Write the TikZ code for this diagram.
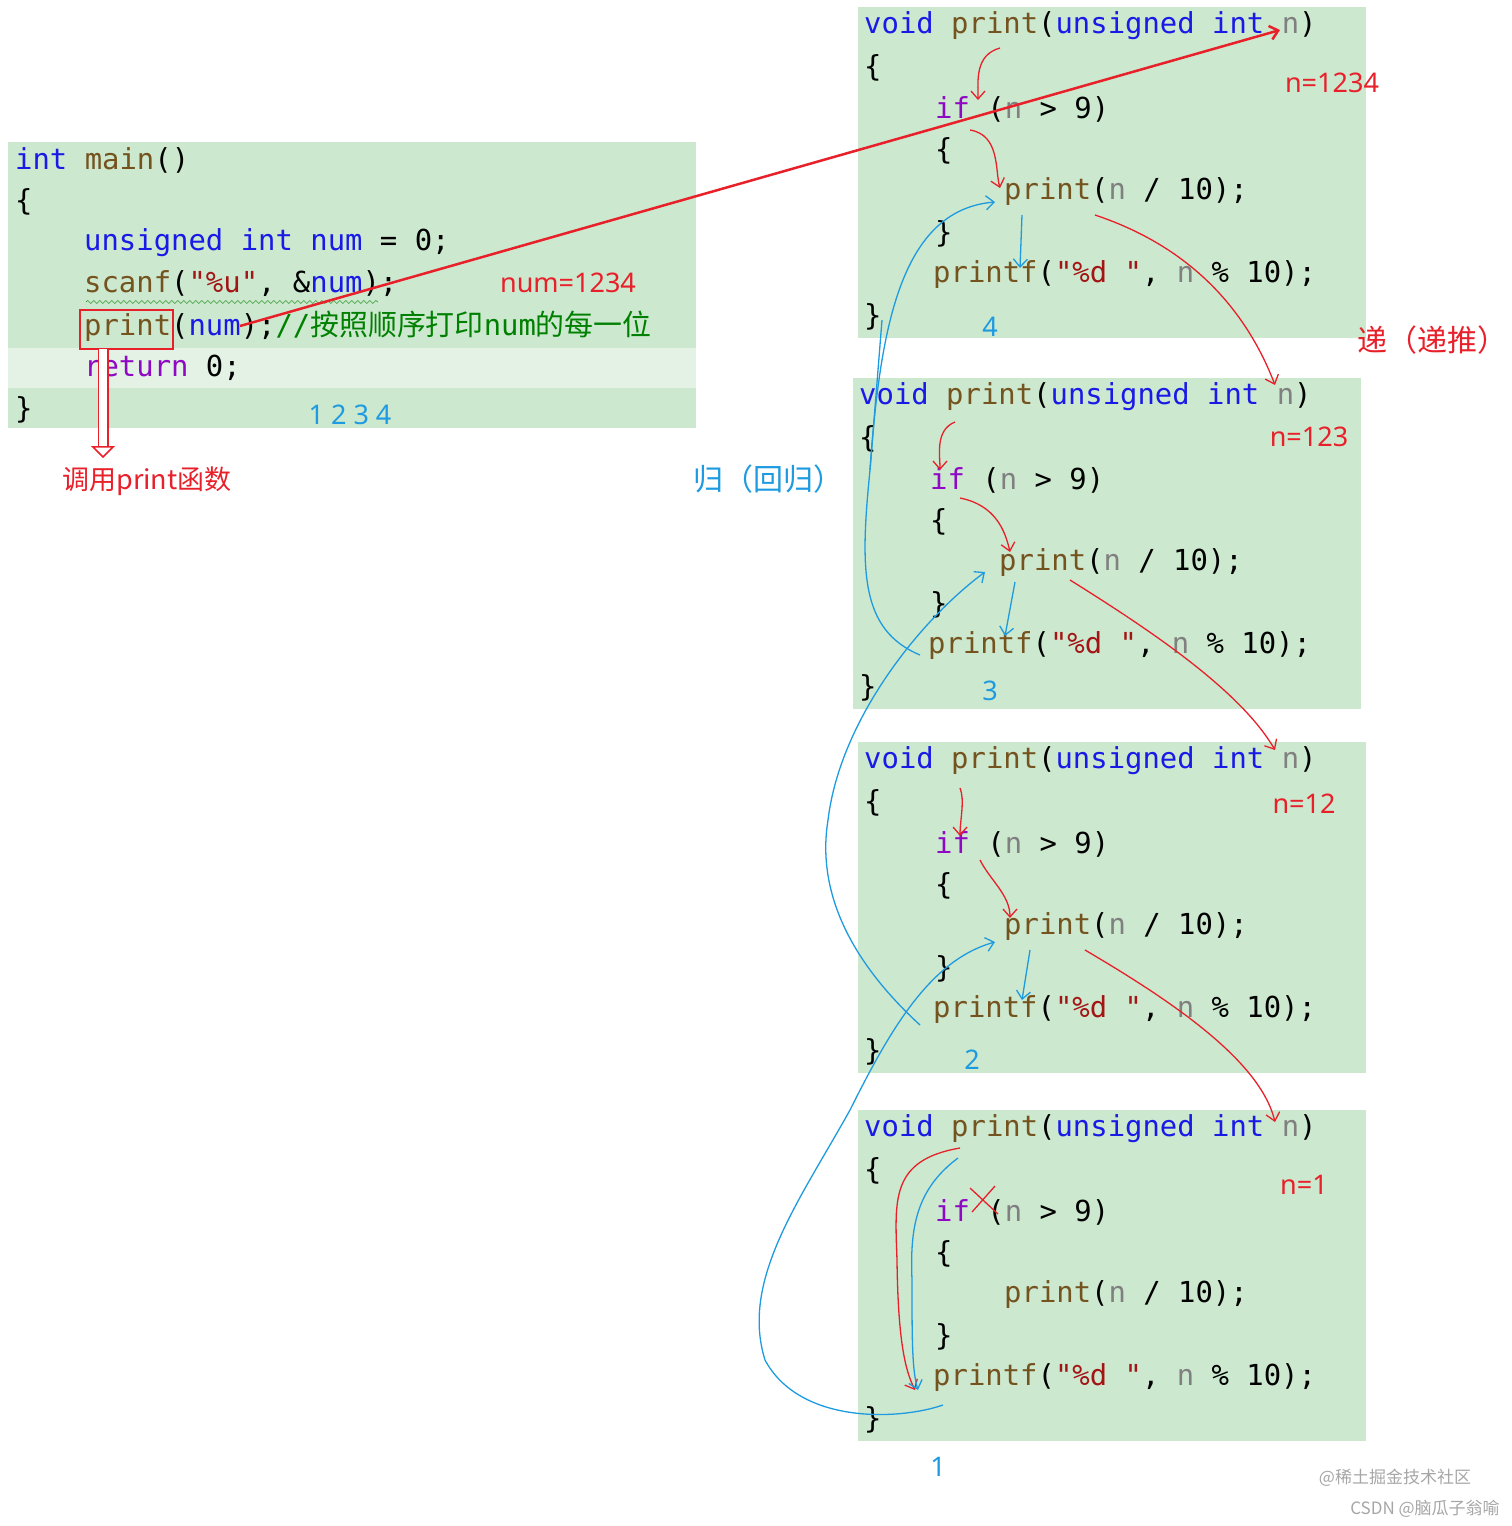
\documentclass[tikz,border=0pt]{standalone}
\usepackage{fontspec}
\setmonofont{DejaVu Sans Mono}
\setsansfont{Noto Sans}
\newfontfamily\cjk{Noto Sans CJK SC}
\usetikzlibrary{arrows.meta,decorations.pathmorphing}
\definecolor{bg}{HTML}{CCE8CF}
\definecolor{kw}{HTML}{1A1AE6}
\definecolor{fn}{HTML}{74531F}
\definecolor{pm}{HTML}{808080}
\definecolor{st}{HTML}{A31515}
\definecolor{pu}{HTML}{8F08C4}
\definecolor{cmt}{HTML}{008000}
\definecolor{rr}{HTML}{E8202A}
\definecolor{bb}{HTML}{1E9BE0}
\newcommand{\K}[1]{\textcolor{kw}{#1}}
\newcommand{\F}[1]{\textcolor{fn}{#1}}
\newcommand{\N}[1]{\textcolor{pm}{#1}}
\newcommand{\Sx}[1]{\textcolor{st}{#1}}
\newcommand{\I}[1]{\textcolor{pu}{#1}}
\begin{document}
\begin{tikzpicture}[x=1pt,y=-1pt,
  code/.style={anchor=west,inner sep=0,font=\fontsize{28.9}{30}\ttfamily},
  lab/.style={inner sep=0,font=\fontsize{27}{30}\sffamily},
  ra/.style={rr,line width=1.3pt,-{Straight Barb[length=8pt,width=14pt]}},
  ba/.style={bb,line width=1.3pt,-{Straight Barb[length=8pt,width=14pt]}}]
\useasboundingbox (0,0) rectangle (1512,1526);
% main box
\fill[bg] (8,142) rectangle (696,428);
\fill[white!45!bg] (8,348) rectangle (696,388);
\node[code] (m1) at (15,160) {\K{int} \F{main}()};
\node[code] (m2) at (15,202) {\{};
\node[code] (m3) at (84,243) {\K{unsigned} \K{int} \K{num} = 0;};
\node[code] (m4) at (84,284) {\F{scanf}(\Sx{"\%u"}, \&\K{num});};
\node[code] (m5) at (84,326) {\F{print}(\K{num});\textcolor{cmt}{//{\cjk 按照顺序打印}num{\cjk 的每一位}}};
\node[code] (m6) at (84,368) {\I{return} 0;};
\node[code] (m7) at (15,410) {\}};
\draw[cmt,decorate,decoration={snake,amplitude=1.5pt,segment length=6pt}] (86,302)--(378,302);
\node[lab,text=rr] (numl) at (568,283) {num=1234};
\node[lab,text=bb] (l1234) at (350,415) {1 2 3 4};
\draw[rr,line width=2pt] (80,310) rectangle (173,349);
\coordinate (pa) at (103,349); \coordinate (pb) at (103,458);
\draw[rr,line width=1.5pt,double,double distance=8pt,-{Triangle[open,length=12pt,width=24pt]}] (pa)--(pb);
\node[lab,text=rr,font=\fontsize{27}{30}\cjk] (call) at (147,481) {调用print函数};
% function boxes
\foreach \bx/\by/\tag in {858/7/a,853/378/b,858/742/c,858/1110/d}{
  \fill[bg] (\bx,\by) rectangle (\bx+508,\by+331);
  \begin{scope}[shift={(\bx,\by)}]
  \node[code] (v\tag) at (6,19) {\K{void} \F{print}(\K{unsigned} \K{int} \N{n})};
  \node[code] at (6,61) {\{};
  \node[code] (if\tag) at (77,102) {\I{if} (\N{n} > 9)};
  \node[code] at (77,144) {\{};
  \node[code] (p\tag) at (146,185) {\F{print}(\N{n} / 10);};
  \node[code] at (77,227) {\}};
  \node[code] (pf\tag) at (75,268) {\F{printf}(\Sx{"\%d "}, \N{n} \% 10);};
  \node[code] at (6,310) {\}};
  \end{scope}}
\node[lab,text=rr] at (1332,83) {n=1234};
\node[lab,text=rr] at (1309,437) {n=123};
\node[lab,text=rr] at (1304,804) {n=12};
\node[lab,text=rr] at (1304,1185) {n=1};
\node[lab,text=bb] at (990,327) {4};
\node[lab,text=bb] at (990,691) {3};
\node[lab,text=bb] at (972,1060) {2};
\node[lab,text=bb] at (938,1467) {1};
\node[lab,text=rr,font=\fontsize{30}{32}\cjk] at (1432,340) {递（递推）};
\node[lab,text=bb,font=\fontsize{30}{32}\cjk] at (768,479) {归（回归）};
\node[lab,text=gray!70,font=\fontsize{17}{20}\cjk] at (1395,1478) {@稀土掘金技术社区};
\node[lab,text=gray!70,font=\fontsize{17}{20}\cjk] at (1425,1509) {CSDN @脑瓜子翁喻};
% red big arrow
\coordinate (s0) at (240,326); \coordinate (t0) at (1280,30);
\draw[ra,line width=2.5pt] (s0)--(t0);
% red recursion arrows
\draw[ra] (1000,48) .. controls (975,55) and (978,80) .. (978,100);
\draw[ra] (970,130) .. controls (1000,135) and (995,170) .. (1000,188);
\draw[ra] (1095,215) .. controls (1200,250) and (1250,320) .. (1275,385);
\draw[ra] (955,422) .. controls (935,430) and (940,455) .. (940,470);
\draw[ra] (960,498) .. controls (995,505) and (1005,530) .. (1010,552);
\draw[ra] (1070,580) .. controls (1150,630) and (1240,690) .. (1275,750);
\draw[ra] (960,788) .. controls (965,800) and (960,820) .. (960,836);
\draw[ra] (980,860) .. controls (990,880) and (1010,895) .. (1010,918);
\draw[ra] (1085,950) .. controls (1170,1000) and (1260,1060) .. (1275,1122);
\draw[rr,line width=1.3pt] (970,1188)--(998,1214) (995,1186)--(972,1212);
\draw[ra] (960,1148) .. controls (890,1160) and (895,1200) .. (897,1260) .. controls (898,1340) and (905,1370) .. (915,1390);
% blue arrows
\draw[ba] (1022,215) -- (1020,268);
\draw[ba] (1015,582) -- (1005,636);
\draw[ba] (1030,950) -- (1022,1000);
\draw[ba] (958,1158) .. controls (915,1190) and (910,1230) .. (912,1280) .. controls (912,1340) and (912,1370) .. (918,1390);
\draw[ba] (943,1405) .. controls (900,1420) and (800,1425) .. (765,1360) .. controls (740,1280) and (800,1200) .. (850,1110) .. controls (890,1030) and (930,960) .. (995,942);
\draw[ba] (920,1025) .. controls (860,970) and (815,900) .. (828,820) .. controls (840,720) and (920,620) .. (985,572);
\draw[ba] (920,655) .. controls (860,630) and (860,570) .. (870,470) .. controls (880,330) and (900,210) .. (995,202);
\draw[bb,line width=1.3pt] (870,470) -- (882,320);
\end{tikzpicture}
\end{document}
